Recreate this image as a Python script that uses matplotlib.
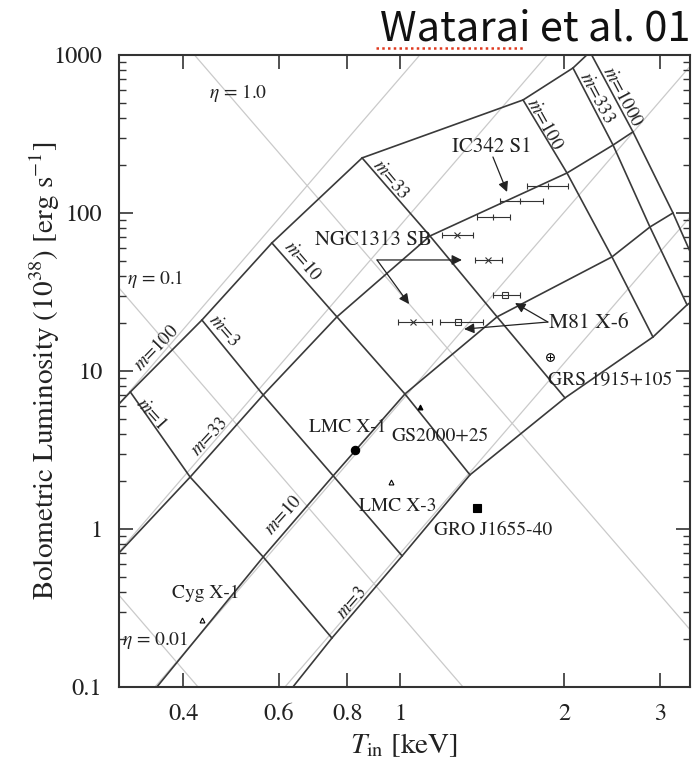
import numpy as np
import matplotlib.pyplot as plt
from matplotlib.lines import Line2D
from matplotlib.ticker import FixedLocator, NullLocator, LogLocator, NullFormatter

plt.rcParams['font.family'] = 'STIXGeneral'
plt.rcParams['mathtext.fontset'] = 'stix'

# slim disk model grid: vertices along each constant-mass line,
# one per accretion rate mdot = 1, 3, 10, 33, 100, 333, 1000
masses = ['100', '33', '10', '3']
mdots = ['1', '3', '10', '33', '100', '333', '1000']
grid_T = {
    '100': [0.320, 0.433, 0.582, 0.852, 1.682, 2.077, 2.232],
    '33': [0.412, 0.561, 0.766, 1.135, 2.025, 2.460, 2.676],
    '10': [0.561, 0.754, 1.021, 1.507, 2.449, 2.875, 3.169],
    '3': [0.750, 1.009, 1.344, 2.008, 2.912, 3.363, 3.659],
}
grid_L = {
    '100': [7.36, 21.0, 64.6, 223, 519, 827, 1045],
    '33': [2.13, 7.05, 22.0, 71.5, 179, 269, 326],
    '10': [0.665, 2.17, 7.15, 22.0, 52.7, 81.5, 100],
    '3': [0.204, 0.675, 2.20, 6.75, 16.4, 26.2, 32.6],
}
# where the mass lines leave the frame below mdot = 1
tail_T = {'100': 0.305, '33': 0.305, '10': 0.358, '3': 0.636}
tail_L = {'100': 6.18, '33': 0.705, '10': 0.1, '3': 0.1}

# thin standard-disk lines (constant mass, and constant eta)
std_T = {'100': [0.30, 1.0875], '33': [0.30, 1.863], '10': [0.355, 3.45], '3': [0.615, 3.45]}
std_L = {'100': [5.79, 1000], '33': [0.672, 1000], '10': [0.1, 893], '3': [0.1, 99.2]}
eta_names = ['1.0', '0.1', '0.01']
eta_T = {'1.0': [0.4196, 3.45], '0.1': [0.30, 1.305], '0.01': [0.30, 0.426]}
eta_L = {'1.0': [1000, 0.219], '0.1': [35.8, 0.1], '0.01': [0.407, 0.1]}

# line labels
m_lab_T = [0.357, 0.448, 0.610, 0.816]
m_lab_L = [14.0, 3.82, 1.23, 0.34]
m_lab_rot = [46, 47, 48, 49]
mdot_lab_T = [0.349, 0.473, 0.664, 0.959, 1.845, 2.288, 2.566]
mdot_lab_L = [5.34, 17.9, 49.7, 162, 366, 534, 542]
mdot_lab_rot = [-48, -49, -49, -50, -61, -62, -62]
eta_lab_T = [0.504, 0.355, 0.355]
eta_lab_L = [574, 38.2, 0.198]

# ULX observations with horizontal error bars
ic342_T = np.array([1.868, 1.660, 1.481])
ic342_L = np.array([148, 119, 94.4])
ic342_lo = np.array([1.709, 1.526, 1.384])
ic342_hi = np.array([2.033, 1.830, 1.591])
ngc1313_T = np.array([1.272, 1.450, 1.0565])
ngc1313_L = np.array([72.6, 50.4, 20.4])
ngc1313_lo = np.array([1.194, 1.373, 0.992])
ngc1313_hi = np.array([1.361, 1.539, 1.145])
m81_T = np.array([1.278, 1.558])
m81_L = np.array([20.4, 30.3])
m81_lo = np.array([1.184, 1.481])
m81_hi = np.array([1.420, 1.660])

# galactic sources
src_names = ['GRS 1915+105', 'GS2000+25', 'LMC X-1', 'LMC X-3', 'GRO J1655-40', 'Cyg X-1']
src_T = [1.884, 1.088, 0.827, 0.963, 1.384, 0.433]
src_L = [12.27, 5.92, 3.162, 1.984, 1.358, 0.2655]
src_marker = ['o', '^', 'o', '^', 's', '^']
src_size = [5.5, 3.5, 6, 3.5, 6, 3.5]
src_fill = ['none', 'k', 'k', 'none', 'k', 'none']
src_lab_T = [2.428, 1.184, 0.803, 0.992, 1.481, 0.441]
src_lab_L = [8.77, 3.88, 4.42, 1.398, 0.9855, 0.3936]

fig = plt.figure(figsize=(6.99, 7.6), dpi=100)
ax = fig.add_axes([0.1702, 0.0961, 0.8169, 0.8316])
ax.set_xscale('log')
ax.set_yscale('log')
ax.set_xlim(0.305, 3.405)
ax.set_ylim(0.1, 1000)

light = '#cacaca'
dark = '#3a3a3a'
for m in masses:
    ax.plot(std_T[m], std_L[m], color=light, lw=0.9, zorder=1)
for e in eta_names:
    ax.plot(eta_T[e], eta_L[e], color=light, lw=0.9, zorder=1)
for m in masses:
    ax.plot([tail_T[m]] + grid_T[m], [tail_L[m]] + grid_L[m], color=dark, lw=1.2, zorder=2)
for j in range(len(mdots)):
    ax.plot([grid_T[m][j] for m in masses], [grid_L[m][j] for m in masses],
            color=dark, lw=1.2, zorder=2)

for i, m in enumerate(masses):
    ax.text(m_lab_T[i], m_lab_L[i], r'$m$=' + m, fontsize=13.5, rotation=m_lab_rot[i],
            ha='center', va='center', color='#222')
for i, md in enumerate(mdots):
    ax.text(mdot_lab_T[i], mdot_lab_L[i], r'$\dot{m}$=' + md, fontsize=13.5,
            rotation=mdot_lab_rot[i], ha='center', va='center', color='#222')
for i, e in enumerate(eta_names):
    ax.text(eta_lab_T[i], eta_lab_L[i], r'$\eta$ = ' + e, fontsize=14,
            ha='center', va='center', color='#222')

eb = dict(color='#333', elinewidth=0.8, capsize=2.5, capthick=0.8, ms=4, mew=0.8, zorder=3)
ax.errorbar(ic342_T, ic342_L, xerr=[ic342_T - ic342_lo, ic342_hi - ic342_T], fmt='+', **eb)
ax.errorbar(ngc1313_T, ngc1313_L, xerr=[ngc1313_T - ngc1313_lo, ngc1313_hi - ngc1313_T],
            fmt='x', **eb)
ax.errorbar(m81_T, m81_L, xerr=[m81_T - m81_lo, m81_hi - m81_T], fmt='s', mfc='none', **eb)

for i, name in enumerate(src_names):
    ax.plot(src_T[i], src_L[i], marker=src_marker[i], ms=src_size[i], mfc=src_fill[i],
            mec='k', mew=0.8, ls='none', zorder=3)
    ax.text(src_lab_T[i], src_lab_L[i], name, fontsize=14, ha='center', va='center', color='#222')
# cross inside the GRS 1915+105 circle
ax.plot(src_T[0], src_L[0], marker='+', ms=4.5, mec='k', mew=0.7, ls='none', zorder=3)

ax.text(1.475, 262, 'IC342 S1', fontsize=15, ha='center', va='center', color='#222')
ax.text(0.892, 67.5, 'NGC1313 SB', fontsize=15, ha='center', va='center', color='#222')
ax.text(2.223, 20.1, 'M81 X-6', fontsize=15.5, ha='center', va='center', color='#222')

arr = dict(arrowstyle='-|>', color='#222', lw=0.9, mutation_scale=15, shrinkA=0, shrinkB=0)
ax.annotate('', xy=(1.572, 135.8), xytext=(1.481, 226), arrowprops=arr)
ax.annotate('', xy=(1.299, 50.4), xytext=(0.9075, 50.4), arrowprops=arr)
ax.annotate('', xy=(1.039, 26.5), xytext=(0.9075, 50.4), arrowprops=arr)
ax.annotate('', xy=(1.626, 26.9), xytext=(1.868, 20.4), arrowprops=arr)
ax.annotate('', xy=(1.311, 18.4), xytext=(1.868, 20.4), arrowprops=arr)

ax.xaxis.set_major_locator(FixedLocator([0.4, 0.6, 0.8, 1, 2, 3]))
ax.xaxis.set_minor_locator(NullLocator())
ax.set_xticklabels(['0.4', '0.6', '0.8', '1', '2', '3'])
ax.yaxis.set_major_locator(FixedLocator([0.1, 1, 10, 100, 1000]))
ax.yaxis.set_minor_locator(LogLocator(base=10, subs=np.arange(2, 10)))
ax.yaxis.set_minor_formatter(NullFormatter())
ax.set_yticklabels(['0.1', '1', '10', '100', '1000'])
ax.tick_params(which='both', direction='in', top=True, right=True, color='#333')
ax.tick_params(which='major', length=10, width=1.2, labelsize=17.5, pad=12, labelcolor='#222')
ax.tick_params(which='minor', length=5, width=1.0)
for s in ax.spines.values():
    s.set_linewidth(1.5)
    s.set_color('#333')

ax.set_xlabel(r'$T_{\rm in}$ [keV]', fontsize=21, color='#222', va='center')
ax.xaxis.set_label_coords(0.5, -0.092)
ax.set_ylabel(r'Bolometric Luminosity (10$^{38}$) [erg s$^{-1}$]', fontsize=21,
              color='#222', va='center')
ax.yaxis.set_label_coords(-0.13, 0.5)

fig.text(0.988, 0.962, 'Watarai et al. 01', ha='right', va='center', fontsize=30,
         family=['Noto Sans CJK JP', 'DejaVu Sans'], color='#111')
fig.add_artist(Line2D([376 / 699, 524 / 699], [1 - 48 / 760] * 2, transform=fig.transFigure,
                      color='#e03a20', lw=1.8, ls=(0, (1, 1.3))))

fig.savefig('out.png', dpi=100)
